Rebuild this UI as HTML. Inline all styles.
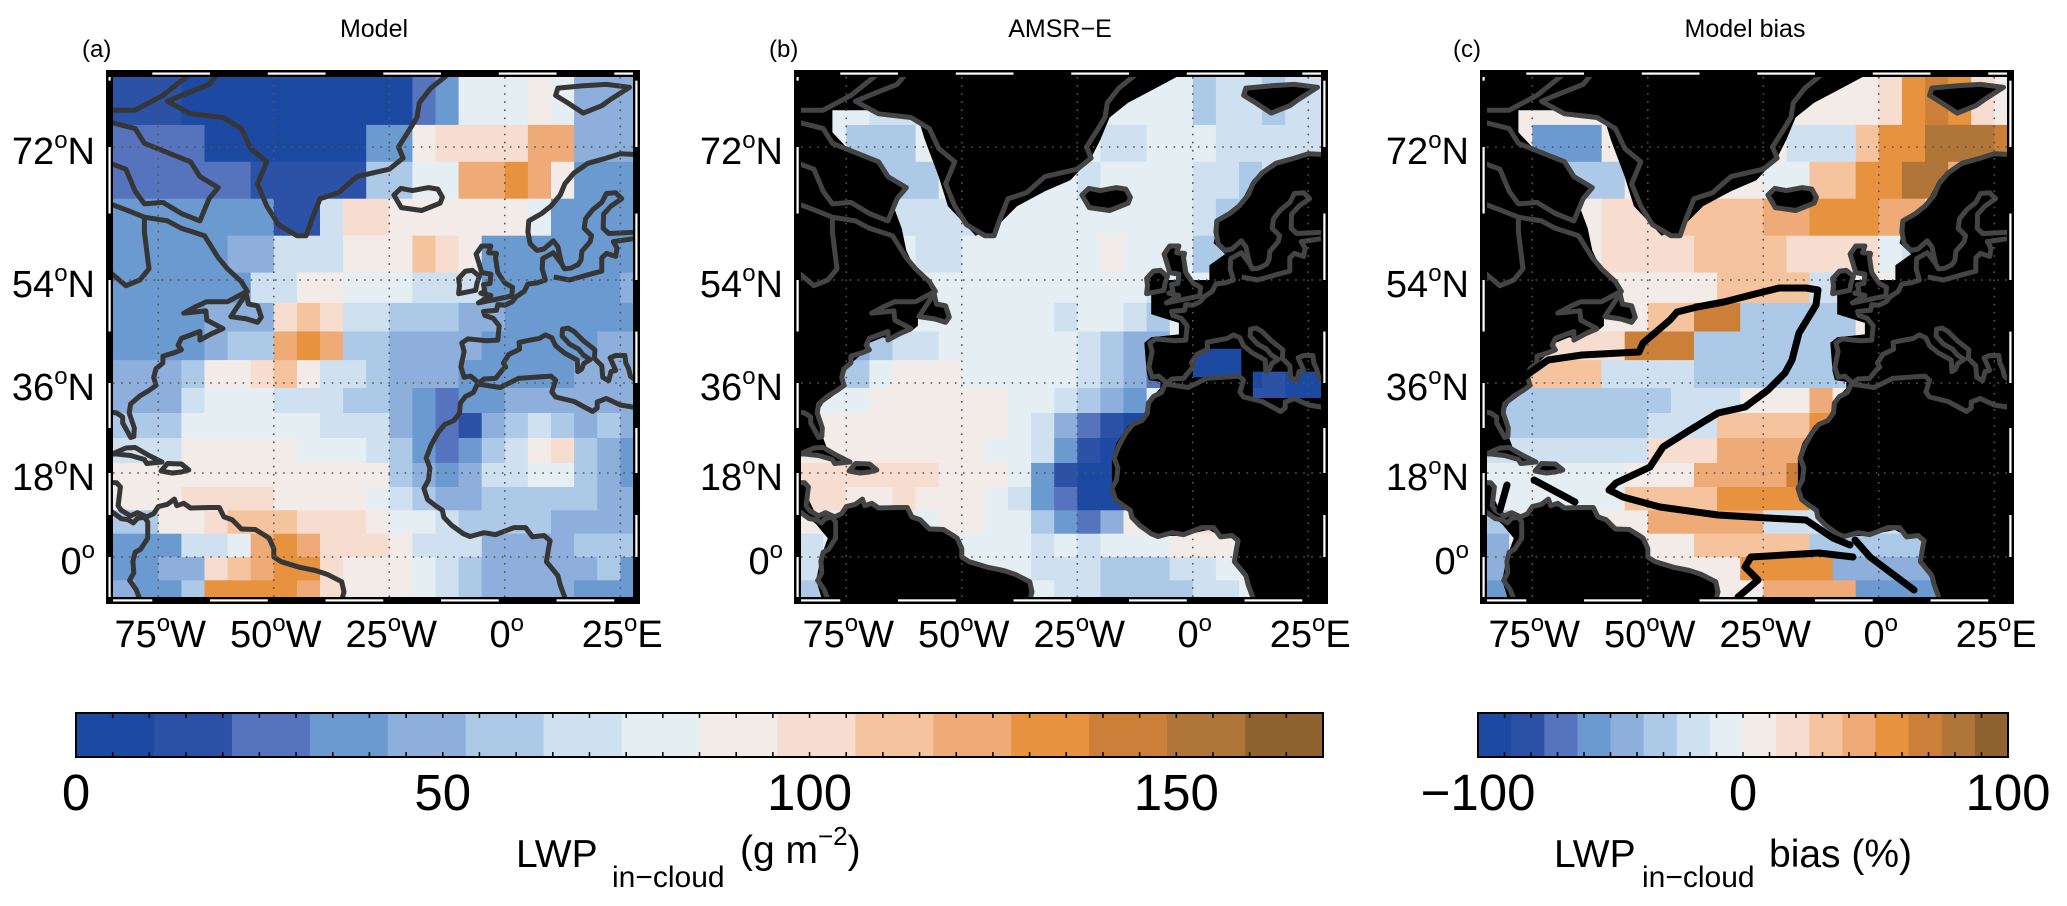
<!DOCTYPE html>
<html><head><meta charset="utf-8">
<style>
html,body{margin:0;padding:0;background:#fff;}
svg{display:block;font-family:"Liberation Sans",Arial,sans-serif;}
</style></head>
<body>
<svg id="fig" width="2067" height="906" viewBox="0 0 2067 906" xmlns="http://www.w3.org/2000/svg">
<rect x="0" y="0" width="2067" height="906" fill="#fff"/>
<g id="maps"></g>
<g id="cbars"></g>
<g id="labels">
  <text x="374" y="37" font-size="25" text-anchor="middle">Model</text>
  <text x="1060" y="37" font-size="25" text-anchor="middle">AMSR−E</text>
  <text x="1745" y="37" font-size="25" text-anchor="middle">Model bias</text>
  <text x="82" y="57" font-size="24">(a)</text>
  <text x="769" y="57" font-size="24">(b)</text>
  <text x="1453" y="57" font-size="24">(c)</text>
  <text x="516" y="867" font-size="39">LWP<tspan x="612" y="887" font-size="30">in−cloud</tspan><tspan x="740" y="863" font-size="39">(g m</tspan><tspan dy="-18" font-size="26">−2</tspan><tspan dy="18" font-size="39">)</tspan></text>
  <text x="1554" y="867" font-size="39">LWP<tspan x="1642" y="887" font-size="30">in−cloud</tspan><tspan x="1769" y="867" font-size="39">bias (%)</tspan></text>
</g>
</svg>
<script>
// ---------- data ----------
const cbColors = ['#1c4aa3','#2b52a6','#5673bd','#6b9ad0','#8eafdc','#adc9e8','#cfe1f0','#e5eef2','#f2ebe7','#f7ddd0','#f5c39e','#eeaa77','#e6923f','#cc7f38','#b07538','#8f6230'];
const lwpTicks = [0,50,100,150];
const biasTicks = [-100,0,100];
const latEdges = [82,75,70,65,60,55,50,45,40,35,30,25,20,15,10,5,0,-5,-10];
const lonStart = -85, lonStep = 5;
const latGrid = [0,18,36,54,72];
const lonGrid = [-75,-50,-25,0,25];
const latLabels = ['0','18','36','54','72'];
const lonLabels = [['75','W'],['50','W'],['25','W'],['0',''],['25','E']];

const modelLWP = [
[15,15,15,5,5,5,5,5,5,5,5,5,5,25,35,75,75,75,85,75,45,45,45],
[25,25,25,25,5,5,5,5,5,5,5,35,35,85,105,105,105,105,125,125,45,45,45],
[25,25,25,25,25,25,15,15,15,15,15,55,55,75,75,125,125,135,125,95,35,35,35],
[35,35,35,35,35,35,35,15,15,65,105,105,85,85,95,95,85,85,75,35,35,35,35],
[35,35,35,35,35,45,45,65,65,65,85,85,85,115,105,85,35,35,35,35,35,35,35],
[35,35,35,35,35,35,65,65,85,85,75,75,75,65,65,65,35,35,35,35,35,35,45],
[35,35,35,35,45,45,45,105,115,105,65,65,55,55,55,45,45,35,35,35,35,35,35],
[35,35,35,35,45,55,55,125,135,125,55,55,45,45,45,45,35,35,35,35,35,45,45],
[45,45,45,55,95,95,105,115,85,65,65,55,45,45,45,35,35,35,35,35,45,45,45],
[45,45,45,65,75,75,75,65,65,65,55,55,45,35,25,35,35,45,45,45,45,45,45],
[55,55,55,75,75,75,75,75,75,65,65,65,45,35,25,15,45,55,65,55,45,55,45],
[65,65,65,85,85,85,85,85,75,75,75,65,55,35,25,35,55,65,95,105,55,45,35],
[85,85,85,95,95,95,95,95,85,85,85,85,55,45,35,45,65,65,75,75,55,45,35],
[95,95,95,105,105,105,105,95,95,95,95,75,65,55,45,45,55,55,55,55,55,45,45],
[55,55,95,95,105,115,115,115,105,105,105,95,75,75,65,55,55,55,55,45,45,45,45],
[35,35,35,65,65,75,125,135,125,105,105,105,85,65,65,65,45,45,45,45,55,55,55],
[35,35,45,45,105,115,125,135,135,105,95,85,85,75,65,55,45,45,45,45,45,55,35],
[45,35,35,55,135,135,135,135,125,105,95,95,85,75,65,55,45,45,45,45,35,35,35]];

const amsrLWP = [
[75,75,75,65,65,65,75,75,75,75,75,75,75,75,75,75,75,55,65,65,55,65,65],
[75,75,55,55,55,75,75,75,75,75,75,75,75,65,65,75,75,75,65,65,65,65,65],
[75,75,75,55,55,55,75,75,75,75,75,75,65,75,75,75,75,65,65,55,65,65,65],
[75,75,75,75,65,65,65,65,75,75,75,75,75,75,75,75,75,65,55,55,75,75,75],
[75,75,75,75,75,65,65,75,75,75,75,75,75,85,75,75,75,55,55,75,75,75,75],
[75,75,75,75,75,75,75,75,75,75,75,75,75,75,75,65,75,75,75,75,75,75,75],
[75,75,75,75,75,75,75,75,75,75,75,65,75,75,65,55,75,75,75,75,75,75,75],
[75,75,45,55,65,65,75,75,75,75,75,75,65,55,45,45,75,5,5,5,75,75,75],
[55,55,55,75,85,85,85,75,75,75,75,75,65,55,45,25,5,5,5,5,15,5,5],
[75,75,75,85,85,95,95,85,85,75,75,65,55,45,35,75,75,75,75,15,15,5,5],
[85,85,85,85,95,95,95,85,85,75,65,45,25,15,5,75,75,75,75,75,75,75,75],
[85,85,85,85,85,95,85,85,75,75,65,35,15,5,5,75,75,75,75,75,75,75,75],
[105,105,105,105,105,105,95,85,85,75,35,15,5,5,5,75,75,75,75,75,75,75,75],
[105,105,95,95,105,95,85,85,75,65,35,25,5,5,5,75,75,75,75,75,75,75,75],
[85,75,75,75,75,75,85,85,75,75,55,35,25,45,85,95,105,105,115,95,75,75,75],
[65,75,75,75,75,75,75,75,75,75,65,75,65,75,75,75,85,85,95,95,75,75,75],
[65,65,75,75,75,75,75,75,75,75,65,65,65,55,55,55,65,65,75,75,75,75,75],
[55,65,75,75,75,75,75,75,75,75,75,65,65,55,55,55,55,65,65,75,75,75,75]];

const biasPct = [
[6,6,6,6,6,6,6,6,6,6,6,6,6,6,6,6,6,19,56,69,56,19,6],
[6,6,-56,-56,-56,6,6,6,6,6,6,6,6,-19,-19,-19,31,56,56,81,81,81,69],
[6,6,6,-31,-31,-31,6,6,6,6,6,6,-6,-6,31,31,56,56,81,81,44,6,6],
[-31,-31,6,6,6,19,19,19,31,31,31,31,44,44,56,56,56,44,44,19,6,6,6],
[-31,-31,6,6,6,19,19,19,19,31,31,31,31,19,19,19,19,-6,-19,6,6,6,6],
[-31,6,6,6,6,6,6,6,6,6,31,31,31,31,-19,-19,6,6,6,6,6,6,6],
[6,6,6,6,6,6,6,31,31,69,69,-31,-31,-31,-31,-31,6,6,6,6,6,6,6],
[6,6,19,19,19,19,69,69,69,-31,-31,-31,-31,-31,-31,-31,6,6,6,6,6,6,6],
[6,31,31,31,31,-19,-19,-19,-19,-31,-31,-31,-31,-31,-31,-31,6,6,6,6,6,6,6],
[-31,-31,-31,-31,-31,-31,-31,-31,-19,-19,-19,6,6,6,44,6,6,6,6,6,6,6,6],
[-31,-31,-31,-31,-31,-31,-31,-19,-19,-19,31,31,31,31,56,6,6,6,6,6,6,6,6],
[-19,-19,-19,-19,-19,-19,-19,19,19,19,44,44,44,44,6,6,6,6,6,6,6,6,6],
[-6,-6,-6,-6,-6,-6,6,6,6,44,44,44,44,69,6,6,6,6,6,6,6,6,6],
[-6,-6,-6,-6,-6,-6,31,31,31,31,56,56,56,56,6,6,6,6,6,6,6,6,6],
[-31,6,6,6,6,6,6,44,44,44,44,44,-19,-19,-19,-19,-19,-19,-19,6,6,6,6],
[-44,6,6,6,6,6,6,6,6,31,31,31,31,31,-31,-31,-31,-31,-31,6,6,6,6],
[-44,6,6,6,6,6,6,6,6,6,6,56,56,56,56,-44,-44,-44,-44,-44,6,6,6],
[-56,6,6,6,6,6,6,6,6,6,6,6,44,44,44,44,-56,-56,-56,-56,-56,6,6]];

// ---------- geography (lon, lat) ----------
const land = {
 ellesmere:[[-86.3,82],[-68,82],[-74,79],[-80,77],[-86.3,77]],
 baffin:[[-86.3,75.5],[-80,74.5],[-78,72.5],[-72,71],[-68,70],[-66,68],[-62,66.5],[-64,65],[-66,62],[-70,63],[-74,64.5],[-78,64.3],[-80,66],[-82,69],[-86.3,70]],
 canada:[[-86.3,64.5],[-82,63.5],[-78,62.5],[-73,62],[-70,61],[-65,60],[-64,59],[-62,57],[-60,55.5],[-57,53.7],[-55.7,52],[-57,51.5],[-60,50.2],[-64.5,50.2],[-67,49.3],[-69.5,48.2],[-64.7,48.6],[-64.5,47],[-61,45.5],[-63.5,44.6],[-66,43.5],[-66,45],[-70,43.8],[-70.7,42.6],[-70,41.8],[-71.5,41.3],[-74,40.7],[-74,39.5],[-75.5,38.5],[-76,37],[-75.5,35.5],[-77,34.5],[-79,33.4],[-81,31.8],[-81.3,30],[-80.2,27],[-80.3,25.3],[-81,25.1],[-81.8,26.5],[-82.7,28],[-82.7,29.2],[-84,30],[-86.3,30.4]],
 newfoundland:[[-59.3,47.6],[-56,51.6],[-55.5,49.8],[-53.5,49.5],[-52.7,47.5],[-53.5,46.6],[-55.9,47.2]],
 greenland:[[-73,78.2],[-68,76.5],[-61,76],[-57,74.5],[-55,71.8],[-51.5,70],[-53.5,67],[-51.5,64],[-49,61.5],[-45,60],[-43,60],[-42,61.8],[-40,65],[-36,65.8],[-32,68],[-25,69],[-22,70.5],[-23,72],[-21,74],[-19,76],[-18.5,78],[-16,80],[-12,82],[-62,82],[-64,80.5],[-70,79]],
 iceland:[[-24,65.5],[-22.4,63.8],[-18,63.4],[-14,64.4],[-13.5,65.2],[-14.5,66.3],[-16.5,66.5],[-20,66.1],[-22.5,66.4]],
 svalbard:[[11,79],[11.5,80],[17,80.3],[22,80.5],[27,80.1],[23,78.5],[21,77.6],[17,76.6],[13.6,78]],
 britain:[[-5.7,50],[1.5,51.2],[1.7,52.7],[0,53.5],[-1.5,55],[-2,57],[-1.8,57.6],[-3.5,57.7],[-3,58.6],[-5,58.6],[-6.2,57.5],[-5.6,56.3],[-5,55],[-3,54.8],[-3.2,53.4],[-4.6,53.2],[-4.3,52],[-5.2,51.7],[-3,51.3]],
 ireland:[[-10,51.6],[-6.3,52.2],[-6,53.5],[-5.5,54.5],[-7,55.3],[-8.5,55.2],[-10,54.2],[-9.8,53]],
 europe:[[29.7,70],[28,71],[25,71.1],[22,70.5],[18,69.8],[15,68.5],[13,67],[12,65.5],[10,64],[8,63],[5.2,62],[5,60.5],[5.5,58.9],[7,58],[8.5,58.2],[10.5,59.3],[11.5,58.5],[12.3,56.2],[10.5,57.7],[8.2,56.9],[8.1,55.5],[8.8,54],[7,53.5],[5,53.3],[4.2,52],[2.5,51.1],[1.6,50.2],[0,49.6],[-1.5,49.7],[-1.8,48.7],[-4.6,48.5],[-4.3,47.8],[-2.5,47.3],[-1.2,46],[-1.5,43.5],[-4,43.4],[-8,43.7],[-9.3,43],[-8.8,41.5],[-9.5,38.8],[-8.8,37],[-7.4,37.2],[-6.2,36.4],[-5.6,36],[-4.5,36.7],[-2,36.8],[-0.5,38.3],[0.2,38.8],[-0.3,39.5],[0.9,41],[3.2,41.9],[3.1,43.1],[4.8,43.4],[7.5,43.8],[8.8,44.4],[10.2,43.9],[11,42.5],[13,41.2],[15.7,40],[15.8,38],[16.6,38.4],[17.1,39.4],[18.5,40.1],[17,40.9],[16,41.9],[14,42.8],[12.4,44.2],[12.5,45.4],[13.7,45.6],[15,45],[17,43.4],[19.5,41.8],[19.4,40.3],[21,39],[21.2,37],[22.5,36.4],[23,38],[24,38.2],[22.8,40.4],[24,40.8],[26,40.8],[26.2,39.5],[26.8,38.5],[27.2,37.2],[28,36.7],[29.7,36.5]],
 africa:[[-5.9,35.8],[-1,35.1],[3,36.8],[10,37.2],[11,36.5],[10.2,34.2],[11,33.2],[15,32.3],[19,30.3],[20,31],[20,32.2],[22,32.9],[25,31.6],[29.7,30.9],[29.7,-10],[13.5,-10],[12,-6],[11.5,-4],[9,-1],[9.5,2],[9.8,3.5],[8.5,4.6],[6,4.3],[4.5,6.3],[2,6.3],[-2,4.8],[-4.5,5.2],[-7.5,4.4],[-9,5],[-11.5,6.8],[-13.2,8.5],[-13.5,10],[-15,11],[-16.7,12.3],[-17.5,14.7],[-16.5,16.5],[-16.2,19],[-17,21],[-16,23.5],[-14.5,26],[-13,27.7],[-11,28.5],[-9.8,30],[-9.6,32],[-8.5,33.3],[-6.8,34.1]],
 cuba:[[-85,21.8],[-82,23],[-80,23.1],[-77,21.5],[-74.2,20.2],[-77.5,19.9],[-78,20.7],[-81,21.5],[-84,21.8]],
 hispaniola:[[-74.4,18.4],[-73,19.9],[-70,19.8],[-68.4,18.6],[-70,18.2],[-72,18]],
 samerica:[[-86.3,16],[-84,15.9],[-83.2,15],[-83.7,11],[-83,10],[-81,8.8],[-79.5,9.5],[-77.5,8.6],[-76,9.3],[-75,10.8],[-73,11.3],[-71.5,12.4],[-71,11],[-69.5,11.5],[-68,10.5],[-64,10.6],[-61.8,10.6],[-60.8,8.6],[-59,8],[-57,6],[-54,5.9],[-52,4.7],[-51,4],[-50,1.8],[-50,0],[-48.4,-1],[-44.5,-2.2],[-41,-2.9],[-38.5,-3.7],[-35.3,-5.3],[-34.8,-7.5],[-35.3,-9.3],[-36,-10],[-78.6,-10],[-79.8,-7],[-81.2,-5],[-80.3,-3.4],[-80.5,-0.9],[-80,1],[-78.8,1.7],[-77.3,4],[-77.3,7.5],[-78,8.5],[-79.5,8.3],[-80.4,7.3],[-81.5,8],[-83,8.2],[-85.5,10],[-85.7,11.2],[-86.3,12.3]]
};
const waterLines = {
 hudson:[[-86.3,55.5],[-82,53],[-79,54],[-77,55.5],[-77.5,58],[-78,60.5],[-78,62.5]],
 baltic:[[10.6,54.4],[14,54],[18,54.7],[21,55.2],[21,57],[22,57.6],[24,57.2],[24.3,58.3],[23.5,59.2],[28,59.6],[29.7,60],[29.7,60.5],[26,60.4],[22.5,60.3],[21.3,61],[21.4,62.9],[23,64],[25.3,65],[24,65.8],[22,65.7],[21,64.5],[19,63.5],[17.5,62.3],[17.2,61],[18.8,60],[18.5,59.2],[16.7,57.9],[16.5,56.7],[15.9,56.1],[14.3,55.6],[12.9,55.5],[12.3,56.2]]
};
const validMain = [[-2,82],[29.7,82],[29.7,70.8],[25,71],[18,69.8],[13,67.6],[10,64],[5.5,62],[4.5,59],[7,57.5],[3.6,56],[3.6,54],[-9,54],[-9,48],[-3,46.5],[-3,44.5],[-9,44],[-10.5,43],[-10,38],[-9.5,36.5],[-7,36.2],[-7,35],[-8,34],[-10,31],[-11,29],[-14,27.5],[-16.5,24],[-17.5,21],[-17.5,15],[-17.5,13],[-15,11],[-14,10],[-13.5,9],[-12,7.5],[-9,5.5],[-7,4.5],[-3,4.5],[1,5.3],[3.5,5.8],[6,4.5],[8.5,4.5],[9.5,3],[9.5,-1],[11.5,-4],[12.5,-6],[13.5,-10],[-35.5,-10],[-35,-8],[-35,-5.5],[-38,-4],[-41,-3],[-44,-2.5],[-48,-1],[-49.5,0],[-50,2],[-51.5,4.2],[-54,5.5],[-57,5.8],[-59,7.5],[-61,8.5],[-61.5,10.2],[-64,10.2],[-68,10],[-72,11],[-75,10.5],[-77,8.5],[-80.5,9],[-82,10],[-83,12],[-83.5,14.5],[-85,16],[-86.3,16],[-86.3,21.5],[-85,21.5],[-81,22],[-79,22.5],[-80,25],[-80,28],[-81,30.5],[-80,32],[-77,34],[-75.5,35.5],[-76,37],[-74.5,39],[-72,40.8],[-70,41.5],[-70,43],[-67,44],[-65.5,43.5],[-61,45],[-59.5,46],[-59.5,47.5],[-56,51],[-57,52.5],[-58,54.5],[-60.5,56],[-62,58],[-63,61],[-66,66],[-72,70],[-78,74],[-78,77],[-60,77],[-58,73],[-55,68],[-53,64],[-50,62],[-47,60],[-42,61.5],[-38,64],[-32,66],[-26.5,67.5],[-22,70.5],[-20,73],[-18,76],[-14,78],[-8,80]];
const validPacific = [[-86.3,9],[-84,9],[-81.5,7],[-79,4],[-80.5,0],[-81.5,-5],[-80,-10],[-86.3,-10]];
const validMed = [[[0,37],[10.5,37],[10.5,42],[0,42]],[[13,33],[29.7,33],[29.7,38],[13,38]]];
// contour (panel c, pixel offsets from interior origin)
const contourLines = [
 [[37,300],[61,283],[95,278],[152,275],[156,266],[183,243],[190,235],[210,230],[237,225],[264,218],[292,211],[319,211],[331,213],[329,228],[312,256],[305,283],[298,296],[281,313],[258,330],[231,336],[203,353],[176,370],[163,390],[129,406],[122,413],[136,420],[173,430],[231,438],[281,441],[319,443],[346,461],[363,468]],
 [[368,463],[383,480],[427,513]],
 [[366,480],[332,476],[264,480],[258,490],[271,503],[251,520]],
 [[47,403],[88,425]],
 [[13,433],[20,408]]];

// ---------- projection ----------
const LON0 = -84.8, PXDEG = 4.62, TOP = 77, BOT = 597, W = 520;
const latA = [-8.6,0,18,36,54,72,81.5], yA = [597,557,473,383,280,147,77];
function Y(lat){
  if (lat <= latA[0]) return yA[0] + (latA[0]-lat)*4.67;
  for (let i=0;i<latA.length-1;i++){
    if (lat <= latA[i+1]) return yA[i] + (lat-latA[i])/(latA[i+1]-latA[i])*(yA[i+1]-yA[i]);
  }
  return yA[6] - (lat-latA[6])*7.39;
}
function X(ix, lon){ return ix + (lon-LON0)*PXDEG; }
function lwpIdx(v){ return Math.max(0, Math.min(15, Math.floor(v/170*16))); }
function biasIdx(v){ return Math.max(0, Math.min(15, Math.floor((v+100)/200*16))); }

const NS = 'http://www.w3.org/2000/svg';
function mk(tag, attrs, parent){
  const e = document.createElementNS(NS, tag);
  for (const k in attrs) e.setAttribute(k, attrs[k]);
  parent.appendChild(e); return e;
}
function pathD(ix, pts, close){
  return pts.map((p,i)=>(i?'L':'M')+X(ix,p[0]).toFixed(1)+','+Y(p[1]).toFixed(1)).join('')+(close?'Z':'');
}

const maps = document.getElementById('maps');
const defs = mk('defs', {}, maps);
const panels = [
  {id:'a', ix:113, data:modelLWP, idx:lwpIdx, masked:false},
  {id:'b', ix:801, data:amsrLWP, idx:lwpIdx, masked:true, med:true},
  {id:'c', ix:1487, data:biasPct, idx:biasIdx, masked:true, med:false}
];

panels.forEach(P => {
  const cp = mk('clipPath', {id:'clip-'+P.id}, defs);
  mk('rect', {x:P.ix, y:TOP, width:W, height:BOT-TOP}, cp);
  const g = mk('g', {'clip-path':'url(#clip-'+P.id+')'}, maps);
  
  
  // cells
  P.data.forEach((row, r) => {
    row.forEach((v, c) => {
      const lo = lonStart + c*lonStep, la0 = latEdges[r], la1 = latEdges[r+1];
      const x0 = X(P.ix, lo), x1 = X(P.ix, lo+lonStep), y0 = Y(la0), y1 = Y(la1);
      const cell = mk('rect', {x:x0.toFixed(1), y:y0.toFixed(1), width:(x1-x0+0.6).toFixed(1), height:(y1-y0+0.6).toFixed(1), fill:cbColors[P.idx(v)]}, g);
      
      
    });
  });
  // mask (no-data) for satellite panels
  if (P.masked){
    let d = 'M'+P.ix+','+TOP+'h'+W+'v'+(BOT-TOP)+'h'+(-W)+'Z';
    d += pathD(P.ix, validMain, true) + pathD(P.ix, validPacific, true);
    if (P.med) validMed.forEach(m => d += pathD(P.ix, m, true));
    const mask = mk('path', {d:d, fill:'#000', 'fill-rule':'evenodd'}, g);
    
    
  }
  // coastlines
  const coastCol = P.masked ? '#444' : '#363636';
  Object.keys(land).forEach(k => {
    const p = mk('path', {d:pathD(P.ix, land[k], true), fill:P.masked?'#000':'none', stroke:coastCol, 'stroke-width':5, 'stroke-linejoin':'round'}, g);
    
    
  });
  Object.keys(waterLines).forEach(k => {
    const p = mk('path', {d:pathD(P.ix, waterLines[k], false), fill:'none', stroke:coastCol, 'stroke-width':5, 'stroke-linejoin':'round'}, g);
    
    
  });
  // gridlines
  latGrid.forEach(la => {
    const l = mk('line', {x1:P.ix, x2:P.ix+W, y1:Y(la), y2:Y(la), stroke:'#555', 'stroke-width':1.6, 'stroke-dasharray':'1.6 6.5'}, g);
    
    
  });
  lonGrid.forEach(lo => {
    const l = mk('line', {x1:X(P.ix,lo), x2:X(P.ix,lo), y1:TOP, y2:BOT, stroke:'#555', 'stroke-width':1.6, 'stroke-dasharray':'1.6 6.5'}, g);
    
    
  });
  // contour for bias
  if (P.id === 'c'){
    contourLines.forEach(line => {
      const d = line.map((p,i)=>(i?'L':'M')+(P.ix+p[0])+','+(TOP+p[1])).join('');
      const cl = mk('path', {d:d, fill:'none', stroke:'#000', 'stroke-width':7, 'stroke-linejoin':'round', 'stroke-linecap':'round'}, g);
      
      
    });
  }
  // frame
  const fr = mk('g', {}, maps);
  
  
  mk('rect', {x:P.ix-7, y:TOP-7, width:W+14, height:7, fill:'#000'}, fr);
  mk('rect', {x:P.ix-7, y:BOT, width:W+14, height:7, fill:'#000'}, fr);
  mk('rect', {x:P.ix-7, y:TOP-7, width:7, height:BOT-TOP+14, fill:'#000'}, fr);
  mk('rect', {x:P.ix+W, y:TOP-7, width:7, height:BOT-TOP+14, fill:'#000'}, fr);
  for (let k=-1;k<6;k++){
    const a = -76.3+25*k, b = a+12.5;
    const ta = Math.max(X(P.ix,a), P.ix), tb = Math.min(X(P.ix,b), P.ix+W);
    if (tb>ta) mk('rect', {x:ta, y:TOP-4.5, width:tb-ta, height:2.2, fill:'#fff'}, fr);
    const ba = Math.max(X(P.ix,a-12.5), P.ix), bb = Math.min(X(P.ix,a), P.ix+W);
    if (bb>ba) mk('rect', {x:ba, y:BOT+2.3, width:bb-ba, height:2.2, fill:'#fff'}, fr);
  }
  for (let la=-9; la<82; la+=18){
    const ya = Math.min(Y(la), BOT), yb = Math.max(Y(la+9), TOP);
    if (ya>yb) mk('rect', {x:P.ix-4.5, y:yb, width:2.2, height:ya-yb, fill:'#fff'}, fr);
    const ra = Math.min(Y(la+9), BOT), rb = Math.max(Y(la+18), TOP);
    if (ra>rb) mk('rect', {x:P.ix+W+2.3, y:rb, width:2.2, height:ra-rb, fill:'#fff'}, fr);
  }
  // axis labels
  latGrid.forEach((la, i) => {
    const t = mk('text', {x:P.ix-18, y:Y(la)+17, 'font-size':38, 'text-anchor':'end'}, maps);
    
    
    const hem = la===0 ? '' : 'N';
    t.innerHTML = latLabels[i]+'<tspan dy="-16" font-size="24">o</tspan><tspan dy="16">'+hem+'</tspan>';
  });
  lonGrid.forEach((lo, i) => {
    const t = mk('text', {x:X(P.ix,lo)+2, y:647, 'font-size':38, 'text-anchor':'middle'}, maps);
    
    
    t.innerHTML = lonLabels[i][0]+'<tspan dy="-16" font-size="24">o</tspan><tspan dy="16">'+lonLabels[i][1]+'</tspan>';
  });
});

// ---------- colorbars ----------
const cb = document.getElementById('cbars');
function colorbar(name, x0, x1, ticksEvery, vmin, vmax, labels){
  const g = mk('g', {}, cb);
  
  
  const y0 = 713, h = 44, n = cbColors.length, bw = (x1-x0)/n;
  cbColors.forEach((col, i) => {
    const r = mk('rect', {x:(x0+i*bw).toFixed(1), y:y0, width:(bw+0.5).toFixed(1), height:h, fill:col}, g);
    
    
  });
  mk('rect', {x:x0, y:y0, width:x1-x0, height:h, fill:'none', stroke:'#000', 'stroke-width':2}, g);
  const sc = (x1-x0)/(vmax-vmin);
  for (let v=vmin+ticksEvery; v<vmax-0.01; v+=ticksEvery){
    const x = x0+(v-vmin)*sc;
    mk('line', {x1:x, x2:x, y1:y0, y2:y0+5, stroke:'#000', 'stroke-width':1.5}, g);
    mk('line', {x1:x, x2:x, y1:y0+h-5, y2:y0+h, stroke:'#000', 'stroke-width':1.5}, g);
  }
  labels.forEach(v => {
    const t = mk('text', {x:x0+(v-vmin)*sc, y:810, 'font-size':51, 'text-anchor':'middle'}, g);
    
    
    t.textContent = v<0 ? '−'+Math.abs(v) : String(v);
  });
}
colorbar('lwp-colorbar', 76, 1323, 5, 0, 170, lwpTicks);
colorbar('bias-colorbar', 1478, 2008, 10, -100, 100, biasTicks);
</script>
</body></html>
